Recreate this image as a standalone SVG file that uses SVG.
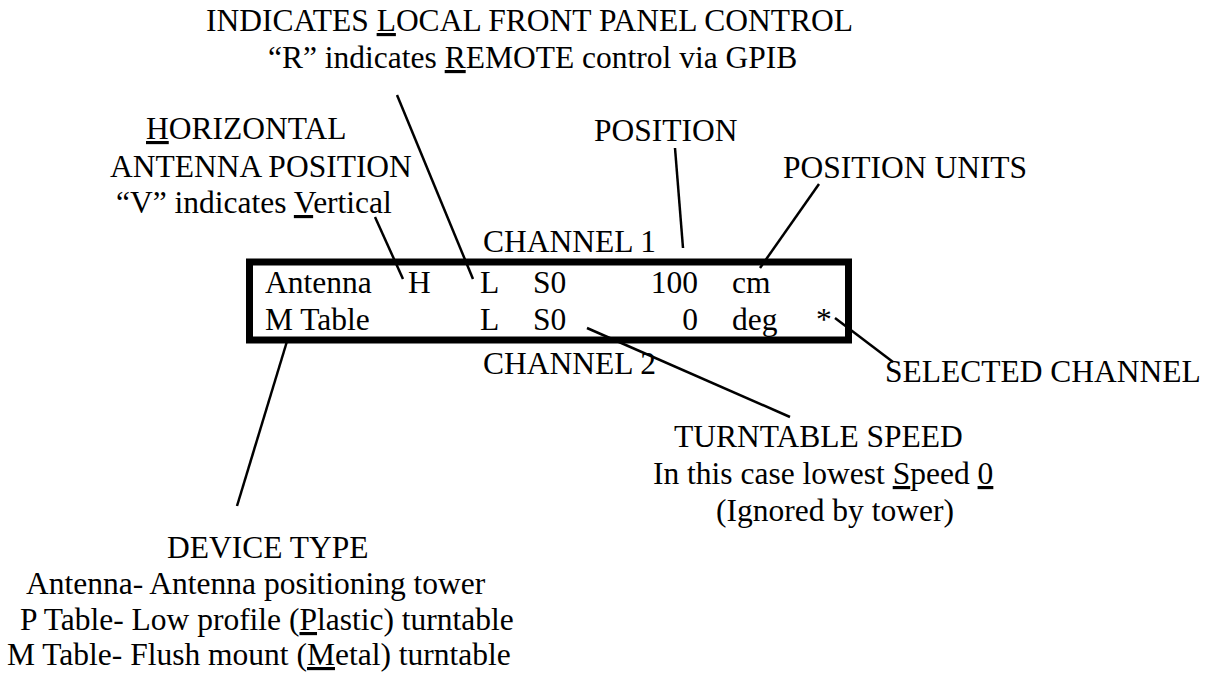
<svg xmlns="http://www.w3.org/2000/svg" width="1215" height="675" viewBox="0 0 1215 675">
<style>
text{font-family:"Liberation Serif","Times New Roman",serif;font-size:31.5px;fill:#000}
.u{text-decoration:underline}
.c{stroke:#000;stroke-width:2.5;fill:none}
</style>
<rect width="1215" height="675" fill="#fff"/>
<g id="connectors">
<line class="c" x1="397" y1="95" x2="473" y2="279"/>
<line class="c" x1="375" y1="217" x2="403" y2="279"/>
<line class="c" x1="675" y1="148" x2="683" y2="248"/>
<line class="c" x1="819" y1="184" x2="760" y2="268"/>
<line class="c" x1="835" y1="318" x2="893" y2="362"/>
<line class="c" x1="587" y1="328" x2="790" y2="417"/>
<line class="c" x1="288" y1="338" x2="237" y2="506"/>
</g>
<g id="local-control">
<text x="206" y="31">INDICATES <tspan class="u">L</tspan>OCAL FRONT PANEL CONTROL</text>
<text x="268" y="68">“R” indicates <tspan class="u">R</tspan>EMOTE control via GPIB</text>
</g>
<g id="horizontal">
<text x="146" y="139"><tspan class="u">H</tspan>ORIZONTAL</text>
<text x="110" y="177">ANTENNA POSITION</text>
<text x="116" y="213">“V” indicates <tspan class="u">V</tspan>ertical</text>
</g>
<g id="position"><text x="594" y="141">POSITION</text></g>
<g id="position-units"><text x="783" y="178">POSITION UNITS</text></g>
<g id="channel1"><text x="483" y="252">CHANNEL 1</text></g>
<g id="display">
<rect x="249.5" y="262" width="599" height="78" fill="none" stroke="#000" stroke-width="7"/>
<text x="265" y="293">Antenna</text>
<text x="408" y="293">H</text>
<text x="480" y="293">L</text>
<text x="533" y="293">S0</text>
<text x="698" y="293" text-anchor="end">100</text>
<text x="732" y="293">cm</text>
<text x="265" y="330">M Table</text>
<text x="480" y="330">L</text>
<text x="533" y="330">S0</text>
<text x="698" y="330" text-anchor="end">0</text>
<text x="732" y="330">deg</text>
<text x="816" y="330">*</text>
</g>
<g id="channel2"><text x="483" y="374">CHANNEL 2</text></g>
<g id="selected-channel"><text x="885" y="382">SELECTED CHANNEL</text></g>
<g id="turntable-speed">
<text x="674" y="447">TURNTABLE SPEED</text>
<text x="653" y="484">In this case lowest <tspan class="u">S</tspan>peed <tspan class="u">0</tspan></text>
<text x="716" y="521">(Ignored by tower)</text>
</g>
<g id="device-type">
<text x="167" y="558">DEVICE TYPE</text>
<text x="26" y="594">Antenna- Antenna positioning tower</text>
<text x="20" y="630">P Table- Low profile (<tspan class="u">P</tspan>lastic) turntable</text>
<text x="7" y="665">M Table- Flush mount (<tspan class="u">M</tspan>etal) turntable</text>
</g>
</svg>
